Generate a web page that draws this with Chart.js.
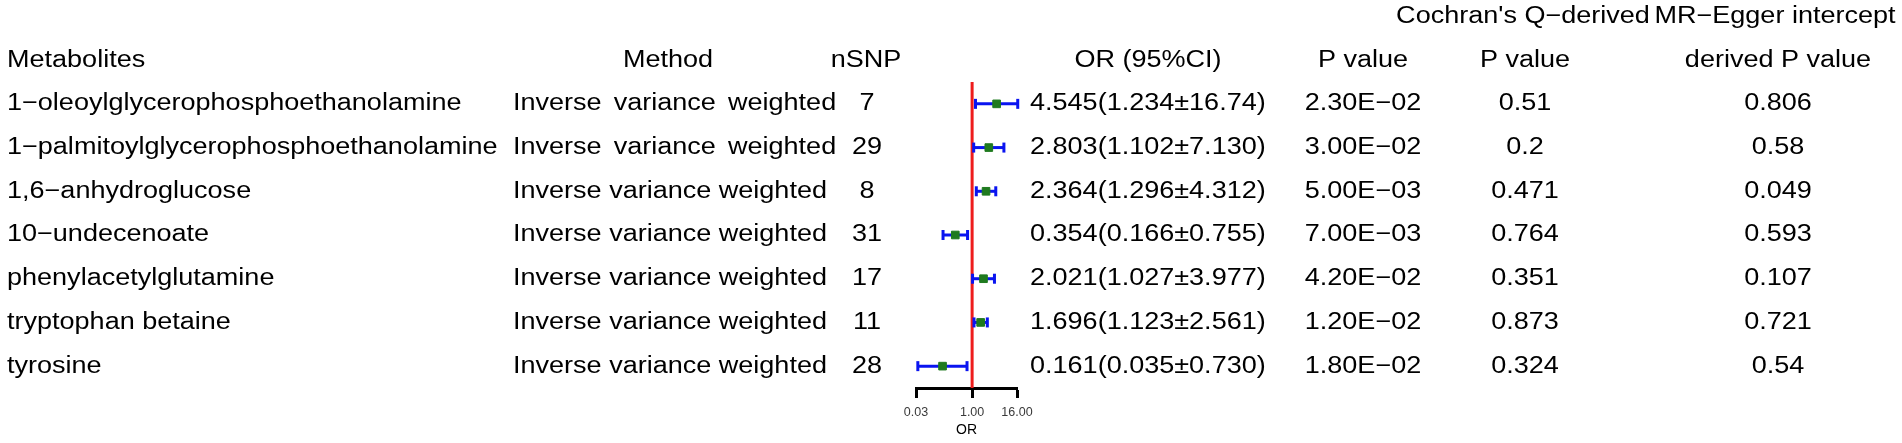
<!DOCTYPE html>
<html>
<head>
<meta charset="utf-8">
<script src="https://cdn.jsdelivr.net/npm/chart.js@4/dist/chart.umd.min.js"></script>
<style>
  html, body { margin: 0; padding: 0; background: #fff; }
  #wrap { width: 1902px; height: 443px; position: relative; }
</style>
</head>
<body>
<div id="wrap"><canvas id="forest"></canvas></div>
<script>
const metabolites = [
  "1−oleoylglycerophosphoethanolamine",
  "1−palmitoylglycerophosphoethanolamine",
  "1,6−anhydroglucose",
  "10−undecenoate",
  "phenylacetylglutamine",
  "tryptophan betaine",
  "tyrosine",
];
const methods = Array(7).fill("Inverse variance weighted");
const nSNP = [7, 29, 8, 31, 17, 11, 28];
const orVal  = [4.545, 2.803, 2.364, 0.354, 2.021, 1.696, 0.161];
const ciLow  = [1.234, 1.102, 1.296, 0.166, 1.027, 1.123, 0.035];
const ciHigh = [16.74, 7.130, 4.312, 0.755, 3.977, 2.561, 0.730];
const orLabels = [
  "4.545(1.234±16.74)",
  "2.803(1.102±7.130)",
  "2.364(1.296±4.312)",
  "0.354(0.166±0.755)",
  "2.021(1.027±3.977)",
  "1.696(1.123±2.561)",
  "0.161(0.035±0.730)",
];
const pIVW   = ["2.30E−02", "3.00E−02", "5.00E−03", "7.00E−03", "4.20E−02", "1.20E−02", "1.80E−02"];
const pQ     = ["0.51", "0.2", "0.471", "0.764", "0.351", "0.873", "0.324"];
const pEgger = ["0.806", "0.58", "0.049", "0.593", "0.107", "0.721", "0.54"];
const xTicks = [1 / 32, 1, 16];

const rows = metabolites.map((_, i) => i + 1);
const BLUE = "#0a14f0";
const GREEN = "#1f7a1f";
const RED = "#ee1c1c";

// R output is a bit wider than tall, so stretch text horizontally
const FONT = "23.5px 'Liberation Sans', Arial, sans-serif";
const SX = 1.15;

function txt(ctx, s, x, y, align, ws) {
  ctx.save();
  ctx.translate(x, y);
  ctx.scale(SX, 1);
  ctx.textAlign = align;
  ctx.wordSpacing = ws || "0px";
  ctx.fillText(s, 0, 0);
  ctx.restore();
}

const tablePlugin = {
  id: "table",
  afterDraw(chart) {
    const ctx = chart.ctx;
    const y = chart.scales.y;
    ctx.save();
    ctx.font = FONT;
    ctx.fillStyle = "#000";
    ctx.textBaseline = "middle";

    const top = y.getPixelForValue(-1);
    const head = y.getPixelForValue(0);
    txt(ctx, "Cochran's Q−derived", 1523, top, "center");
    txt(ctx, "MR−Egger intercept", 1775, top, "center");

    txt(ctx, "Metabolites", 7, head, "left");
    txt(ctx, "Method", 668, head, "center");
    txt(ctx, "nSNP", 866, head, "center");
    txt(ctx, "OR (95%CI)", 1148, head, "center");
    txt(ctx, "P value", 1363, head, "center");
    txt(ctx, "P value", 1525, head, "center");
    txt(ctx, "derived P value", 1778, head, "center");

    rows.forEach((r, i) => {
      const py = y.getPixelForValue(r);
      txt(ctx, metabolites[i], 7, py, "left");
      txt(ctx, methods[i], 513, py, "left", i < 2 ? "4px" : "0px");
      txt(ctx, String(nSNP[i]), 867, py, "center");
      txt(ctx, orLabels[i], 1030, py, "left");
      txt(ctx, pIVW[i], 1363, py, "center");
      txt(ctx, pQ[i], 1525, py, "center");
      txt(ctx, pEgger[i], 1778, py, "center");
    });
    ctx.restore();
  },
};

const ciSets = rows.map((r, i) => ({
  type: "line",
  data: [{ x: ciLow[i], y: r }, { x: ciHigh[i], y: r }],
  borderColor: BLUE,
  borderWidth: 3,
  pointRadius: 0,
  clip: false,
}));

new Chart(document.getElementById("forest"), {
  type: "scatter",
  data: {
    datasets: [
      {
        data: rows.map((r, i) => ({ x: orVal[i], y: r })),
        pointStyle: "rect",
        pointRadius: 5.4,
        backgroundColor: GREEN,
        borderColor: GREEN,
        borderWidth: 1,
        clip: false,
      },
      {
        data: rows.flatMap((r, i) => [{ x: ciLow[i], y: r }, { x: ciHigh[i], y: r }]),
        pointStyle: "line",
        rotation: 90,
        pointRadius: 5,
        borderColor: BLUE,
        borderWidth: 3,
        clip: false,
      },
      ...ciSets,
      {
        type: "line",
        data: [{ x: 1, y: 0.5 }, { x: 1, y: 7.5 }],
        borderColor: RED,
        borderWidth: 3,
        pointRadius: 0,
        clip: false,
      },
    ],
  },
  options: {
    responsive: true,
    maintainAspectRatio: false,
    animation: false,
    layout: { padding: { left: 916, right: 885, top: 82, bottom: 0 } },
    scales: {
      x: {
        type: "logarithmic",
        min: 1 / 32,
        max: 16,
        afterBuildTicks: s => { s.ticks = xTicks.map(v => ({ value: v })); },
        afterFit: s => { s.height = 55; },
        ticks: {
          autoSkip: false,
          maxRotation: 0,
          padding: 7,
          color: "#3a3a3a",
          font: { family: "'Liberation Sans', Arial, sans-serif", size: 12.5 },
          callback: v => Number(v).toFixed(2),
        },
        grid: {
          drawOnChartArea: false,
          drawTicks: true,
          tickLength: 10,
          tickWidth: 3,
          tickColor: "#000",
        },
        border: { display: true, color: "#000", width: 3 },
        title: {
          display: true,
          text: "OR",
          color: "#000",
          font: { family: "'Liberation Sans', Arial, sans-serif", size: 14 },
          padding: { top: 0, bottom: 4 },
        },
      },
      y: {
        type: "linear",
        display: false,
        reverse: true,
        min: 0.5,
        max: 7.5,
      },
    },
    plugins: {
      legend: { display: false },
      tooltip: { enabled: false },
    },
  },
  plugins: [tablePlugin],
});
</script>
</body>
</html>
